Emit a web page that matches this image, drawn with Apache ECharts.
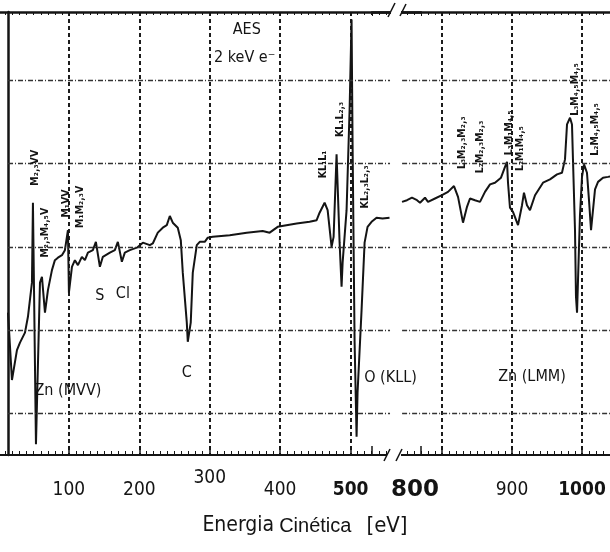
<!DOCTYPE html>
<html>
<head>
<meta charset="utf-8">
<script src="https://cdn.jsdelivr.net/npm/echarts@6/dist/echarts.min.js"></script>
<style>
  html, body { margin: 0; padding: 0; background: #fff; }
  #chart { width: 610px; height: 552px; }
</style>
</head>
<body>
<div id="chart"></div>
<script>
// AES spectrum, dN/dE in arbitrary units
const lowEnergy = [13.5, 19.1, 26.2, 30.5, 37.6, 41.8, 47.5, 48.9, 53.2, 58.9,
  61.7, 66.0, 70.2, 75.9, 80.1, 84.4, 90.1, 94.3, 98.6, 100.0,
  104.3, 108.5, 112.8, 118.4, 122.7, 127.0, 134.0, 138.3, 144.0, 148.2,
  158.2, 165.2, 169.5, 175.2, 179.4, 186.5, 196.5, 205.0, 214.9, 219.1,
  226.2, 233.3, 239.0, 243.3, 247.5, 254.6, 258.9, 261.7, 267.4, 268.8,
  273.0, 275.9, 281.6, 285.8, 292.9, 297.2, 304.3, 328.4, 352.5, 375.2,
  385.1, 396.5, 423.4, 441.8, 451.8, 456.0, 463.1, 467.4, 473.0, 475.9,
  480.1, 484.4, 487.2, 488.7, 494.3, 498.6, 501.4, 502.8, 505.7, 508.5,
  509.9, 515.6, 519.9, 524.1, 529.8, 536.9, 545.4, 555.3];
const lowSignal = [17.1, 9.0, 12.6, 13.5, 14.7, 16.6, 20.7, 30.3, 1.3, 20.7,
  21.4, 17.1, 19.8, 22.2, 23.4, 23.7, 24.0, 24.6, 27.0, 19.5,
  22.6, 23.4, 22.8, 23.8, 23.4, 24.3, 24.6, 25.6, 22.6, 23.8,
  24.3, 24.6, 25.6, 23.2, 24.3, 24.6, 24.9, 25.5, 25.2, 25.4,
  26.7, 27.3, 27.6, 28.7, 27.9, 27.3, 25.8, 21.9, 15.9, 13.6,
  15.9, 21.9, 25.2, 25.6, 25.6, 26.1, 26.2, 26.4, 26.7, 26.9,
  26.7, 27.4, 27.8, 28.0, 28.2, 29.1, 30.3, 29.4, 25.0, 26.2,
  36.1, 25.5, 20.2, 23.1, 29.4, 41.5, 52.3, 37.5, 13.6, 2.2,
  7.5, 17.4, 25.5, 27.4, 28.0, 28.5, 28.4, 28.5];

const highEnergy = [742.9, 750.0, 757.1, 764.3, 768.6, 775.7, 780.0, 790.0, 800.0, 808.6,
  817.1, 822.9, 830.0, 835.7, 840.0, 847.1, 854.3, 861.4, 868.6, 875.7,
  884.3, 890.0, 892.9, 894.3, 897.1, 901.4, 908.6, 914.3, 917.1, 921.4,
  925.7, 932.9, 944.3, 954.3, 964.3, 971.4, 975.7, 978.6, 982.9, 985.7,
  987.1, 990.0, 991.4, 992.9, 994.3, 997.1, 1000.0, 1002.9, 1007.1, 1010.0,
  1012.9, 1015.7, 1018.6, 1022.9, 1030.0, 1037.1, 1042.9];
const highSignal = [30.4, 30.6, 30.9, 30.6, 30.3, 30.9, 30.4, 30.8, 31.2, 31.6,
  32.3, 31.0, 27.9, 29.8, 30.8, 30.6, 30.4, 31.6, 32.5, 32.7,
  33.3, 34.6, 35.2, 32.7, 29.7, 29.2, 27.6, 30.0, 31.5, 30.0,
  29.4, 31.2, 32.7, 33.1, 33.7, 33.9, 35.5, 39.7, 40.5, 39.7,
  35.5, 27.0, 19.0, 17.1, 21.0, 28.8, 33.4, 34.9, 33.9, 30.6,
  27.0, 29.4, 31.9, 32.8, 33.3, 33.4, 33.5];

const tickLabels = [100, 200, 300, 400, 500, 800, 900, 1000];
const gridLevels = [5, 15, 25, 35, 45];
const lowSpan = [13.5, 556];
const highSpan = [743, 1050];

// [text, energy, signal, rotated]
const lowNotes = [
  ['AES', 352.6, 51.1, 0],
  ['2 keV e⁻', 349.6, 47.7, 0],
  ['M₂,₃VV', 51.8, 34.5, 1],
  ['M₂,₃M₄,₅V', 66.0, 26.7, 1],
  ['M₁VV', 95.7, 30.2, 1],
  ['M₁M₂,₃V', 115.6, 29.8, 1],
  ['Zn (MVV)', 98.6, 7.7, 0],
  ['S', 144.0, 19.1, 0],
  ['Cl', 176.6, 19.4, 0],
  ['C', 267.4, 9.9, 0],
  ['KL₁L₁', 461.7, 34.9, 1],
  ['KL₁L₂,₃', 485.8, 40.3, 1],
  ['KL₂,₃L₂,₃', 521.3, 32.2, 1],
  ['O (KLL)', 556.7, 9.3, 0]
];
const highNotes = [
  ['Zn (LMM)', 928.6, 9.4, 0],
  ['L₃M₂,₃M₂,₃', 828.6, 37.5, 1],
  ['L₂M₂,₃M₂,₃', 854.3, 37.0, 1],
  ['L₃M₁M₄,₅', 896.5, 38.7, 1],
  ['L₂M₁M₄,₅', 912.5, 36.8, 1],
  ['L₃M₄,₅M₄,₅', 990.0, 43.9, 1],
  ['L₂M₄,₅M₄,₅', 1018.6, 39.1, 1]
];

const ink = '#141414';
const narrow = "'Liberation Sans Narrow', 'DejaVu Sans Condensed', 'Liberation Sans', sans-serif";

const pair = (xs, ys) => xs.map((x, i) => [x, ys[i]]);

const notePoints = (list) => list.map(([text, e, v, turned]) => ({
  name: text,
  coord: [e, v],
  label: turned
    ? {rotate: 90, fontSize: 10.5, fontWeight: 'bold', fontFamily: "'DejaVu Sans Condensed', sans-serif"}
    : {fontSize: 16, fontFamily: narrow}
}));

const levelLines = (span) => gridLevels.map(v => [{coord: [span[0], v]}, {coord: [span[1], v]}]);

const tickFormatter = (v) => {
  if (!tickLabels.includes(v)) return '';
  if (v === 300) return '{up|300}';
  if (v === 500 || v === 1000) return '{heavy|' + v + '}';
  if (v === 800) return '{wide|800}';
  return '{n|' + v + '}';
};

const bottomAxis = (grid, min, max) => ({
  gridIndex: grid,
  type: 'value',
  position: 'bottom',
  min, max,
  interval: 100,
  axisLine: {lineStyle: {color: ink, width: 2}},
  axisTick: {inside: true, length: 9, lineStyle: {color: ink, width: 1.5}},
  minorTick: {show: true, splitNumber: 10, length: 4, lineStyle: {color: ink, width: 1}},
  splitLine: {
    show: true, showMinLine: false, showMaxLine: false,
    lineStyle: {color: '#1c1c1c', width: 2, type: [4, 3]}
  },
  axisLabel: {
    margin: 14,
    formatter: tickFormatter,
    rich: {
      n: {fontFamily: narrow, fontSize: 19, color: ink, padding: [12, 0, 0, 0]},
      up: {fontFamily: narrow, fontSize: 19, color: ink},
      heavy: {fontFamily: narrow, fontSize: 19, fontWeight: 'bold', color: ink, padding: [12, 0, 0, 0]},
      wide: {fontFamily: "'DejaVu Sans', sans-serif", fontSize: 23, fontWeight: 'bold', color: ink, padding: [10, 54, 0, 0]}
    }
  }
});

const topAxis = (grid, min, max) => ({
  gridIndex: grid,
  type: 'value',
  position: 'top',
  min, max,
  interval: 100,
  axisLine: {lineStyle: {color: ink, width: 2.5}},
  axisTick: {inside: true, length: 4, lineStyle: {color: ink, width: 1}},
  minorTick: {show: true, splitNumber: 10, length: 3, lineStyle: {color: ink, width: 1}},
  splitLine: {show: false},
  axisLabel: {show: false}
});

const lineStyleH = {color: '#333', width: 1.3, type: [5, 2, 1, 2]};

const chart = echarts.init(document.getElementById('chart'));

chart.setOption({
  backgroundColor: '#fff',
  animation: false,
  title: {
    text: '{a|Energia} {b|Cinética}   {c|[eV]}',
    left: 'center',
    top: 510,
    textStyle: {
      fontWeight: 'normal',
      rich: {
        a: {fontFamily: narrow, fontSize: 21, fontWeight: 'normal', color: ink},
        b: {fontFamily: "'Liberation Sans', sans-serif", fontSize: 20, fontWeight: 'normal', color: ink},
        c: {fontFamily: narrow, fontSize: 22, fontWeight: 'normal', color: ink}
      }
    }
  },
  grid: [
    {left: -1.5, top: 12, width: 422.5, height: 443, outerBoundsMode: 'none'},
    {left: 372, top: 12, width: 245, height: 443, outerBoundsMode: 'none'}
  ],
  xAxis: [
    bottomAxis(0, 0, 600),
    topAxis(0, 0, 600),
    bottomAxis(1, 700, 1050),
    topAxis(1, 700, 1050)
  ],
  yAxis: [
    {
      gridIndex: 0, type: 'value', min: 0, max: 53.2, offset: -9.5,
      axisLine: {show: true, lineStyle: {color: ink, width: 2.5}},
      axisTick: {show: false}, axisLabel: {show: false}, splitLine: {show: false}
    },
    {gridIndex: 1, type: 'value', min: 0, max: 53.2, show: false, splitLine: {show: false}}
  ],
  graphic: [
    {type: 'rect', shape: {x: 387, y: 449, width: 14, height: 12}, style: {fill: '#fff'}, z: 100},
    {type: 'line', shape: {x1: 384, y1: 461, x2: 390, y2: 449}, style: {stroke: ink, lineWidth: 1.6}, z: 101},
    {type: 'line', shape: {x1: 396, y1: 461, x2: 402, y2: 449}, style: {stroke: ink, lineWidth: 1.6}, z: 101},
    {type: 'rect', shape: {x: 391, y: 6, width: 10, height: 12}, style: {fill: '#fff'}, z: 100},
    {type: 'line', shape: {x1: 388, y1: 17, x2: 395, y2: 3}, style: {stroke: ink, lineWidth: 1.6}, z: 101},
    {type: 'line', shape: {x1: 400, y1: 16, x2: 406, y2: 4}, style: {stroke: ink, lineWidth: 1.6}, z: 101}
  ],
  series: [
    {
      type: 'line',
      xAxisIndex: 0, yAxisIndex: 0,
      data: pair(lowEnergy, lowSignal),
      showSymbol: false,
      lineStyle: {color: ink, width: 2},
      markLine: {
        silent: true, symbol: ['none', 'none'], label: {show: false},
        lineStyle: lineStyleH, data: levelLines(lowSpan)
      },
      markPoint: {
        silent: true, symbol: 'circle', symbolSize: 0,
        label: {show: true, position: 'inside', formatter: '{b}', color: ink},
        data: notePoints(lowNotes)
      }
    },
    {
      type: 'line',
      xAxisIndex: 2, yAxisIndex: 1,
      data: pair(highEnergy, highSignal),
      showSymbol: false,
      lineStyle: {color: ink, width: 2},
      markLine: {
        silent: true, symbol: ['none', 'none'], label: {show: false},
        lineStyle: lineStyleH, data: levelLines(highSpan)
      },
      markPoint: {
        silent: true, symbol: 'circle', symbolSize: 0,
        label: {show: true, position: 'inside', formatter: '{b}', color: ink},
        data: notePoints(highNotes)
      }
    }
  ]
});
</script>
</body>
</html>
